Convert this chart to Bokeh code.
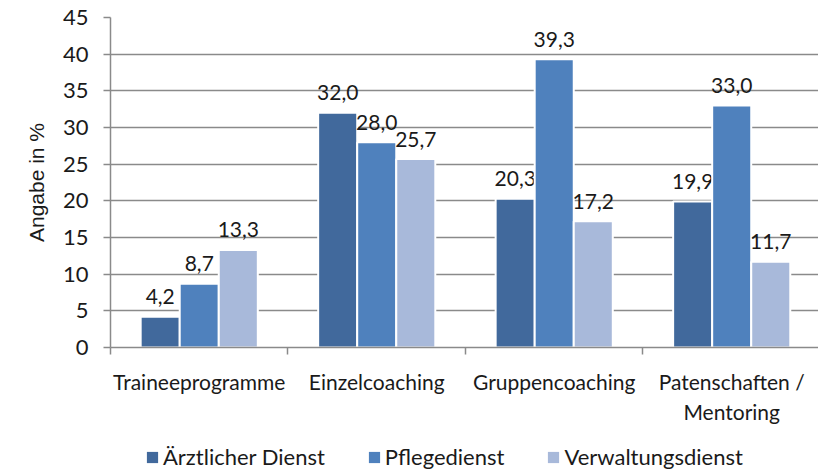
from bokeh.plotting import figure
from bokeh.layouts import column
from bokeh.models import ColumnDataSource, FixedTicker, Legend, LegendItem, Range1d
from bokeh.core.properties import value
from bokeh.embed import file_html
from bokeh.resources import INLINE

categories = ["Traineeprogramme", "Einzelcoaching", "Gruppencoaching", "Patenschaften /\nMentoring"]
series = ["Ärztlicher Dienst", "Pflegedienst", "Verwaltungsdienst"]
aerztlich = [4.2, 32.0, 20.3, 19.9]
pflege = [8.7, 28.0, 39.3, 33.0]
verwaltung = [13.3, 25.7, 17.2, 11.7]
y_ticks = [0, 5, 10, 15, 20, 25, 30, 35, 40, 45]
colors = ["#41699C", "#4F81BD", "#A8B9DA"]

FONT = "Lato"
TXT = "#1a1a1a"
GRID = "#8a8a8a"

p = figure(width=818, height=432, x_range=Range1d(0, 3.989), y_range=Range1d(0, 45),
           output_backend="svg", toolbar_location=None,
           min_border_left=110, min_border_right=0, min_border_top=17, min_border_bottom=85)
p.outline_line_color = None
p.background_fill_color = "white"

bar_w = 0.22
sources = []
for i, vals in enumerate([aerztlich, pflege, verwaltung]):
    xs = [j + 0.5 + (i - 1) * bar_w for j in range(len(categories))]
    labels = [f"{v:.1f}".replace(".", ",") for v in vals]
    src = ColumnDataSource(dict(x=xs, top=vals, label=labels))
    sources.append(src)
    p.vbar(x="x", top="top", width=bar_w, bottom=0, source=src,
           fill_color=colors[i], line_color="white", line_width=2)
    p.text(x="x", y="top", text="label", source=src, text_align="center",
           text_baseline="alphabetic", y_offset=-20, text_font=value(FONT),
           text_font_size="21px", text_color=TXT)

# x axis
p.xaxis.ticker = FixedTicker(ticks=[j + 0.5 for j in range(len(categories))],
                             minor_ticks=list(range(len(categories) + 1)))
p.xaxis.major_label_overrides = {j + 0.5: c for j, c in enumerate(categories)}
p.xaxis.major_tick_line_color = None
p.xaxis.major_tick_out = 0
p.xaxis.major_tick_in = 0
p.xaxis.minor_tick_line_color = GRID
p.xaxis.minor_tick_line_width = 1.5
p.xaxis.minor_tick_out = 7
p.xaxis.minor_tick_in = 0
p.xaxis.axis_line_color = GRID
p.xaxis.axis_line_width = 1.5
p.xaxis.major_label_standoff = 14
p.xaxis.major_label_text_font = FONT
p.xaxis.major_label_text_font_size = "21px"
p.xaxis.major_label_text_color = TXT

# y axis
p.yaxis.ticker = FixedTicker(ticks=y_ticks)
p.yaxis.axis_line_color = GRID
p.yaxis.axis_line_width = 1.5
p.yaxis.major_tick_line_color = GRID
p.yaxis.major_tick_line_width = 1.5
p.yaxis.major_tick_out = 7
p.yaxis.major_tick_in = 0
p.yaxis.minor_tick_line_color = None
p.yaxis.major_label_standoff = 15
p.yaxis.major_label_text_font = FONT
p.yaxis.major_label_text_font_size = "22px"
p.yaxis.major_label_text_color = TXT
p.yaxis.axis_label = "Angabe in %"
p.yaxis.axis_label_text_font = "Liberation Sans"
p.yaxis.axis_label_text_font_style = "normal"
p.yaxis.axis_label_text_font_size = "21px"
p.yaxis.axis_label_text_color = TXT
p.yaxis.axis_label_standoff = 12

p.xgrid.grid_line_color = None
p.ygrid.grid_line_color = GRID
p.ygrid.grid_line_width = 1.5

# legend strip below the chart (its glyphs share the data but lie outside its view)
pl = figure(width=818, height=40, x_range=Range1d(0, 1), y_range=Range1d(100, 101),
            output_backend="svg", toolbar_location=None,
            x_axis_location=None, y_axis_location=None,
            min_border_left=0, min_border_right=0, min_border_top=0, min_border_bottom=0)
pl.outline_line_color = None
pl.grid.grid_line_color = None
leg_renderers = []
for i in range(len(series)):
    leg_renderers.append(pl.vbar(x="x", top="top", width=bar_w, bottom=0, source=sources[i],
                                 fill_color=colors[i], line_color=None))
legend = Legend(items=[LegendItem(label=s, renderers=[r]) for s, r in zip(series, leg_renderers)],
                location=(35, 2), orientation="horizontal",
                glyph_width=14, glyph_height=14, label_standoff=4, spacing=42,
                padding=0, margin=0, border_line_color=None, background_fill_alpha=0,
                label_text_font=FONT, label_text_font_size="22px", label_text_color=TXT)
pl.add_layout(legend)

layout = column(p, pl, spacing=0)
open("out.html", "w").write(file_html(layout, INLINE))
